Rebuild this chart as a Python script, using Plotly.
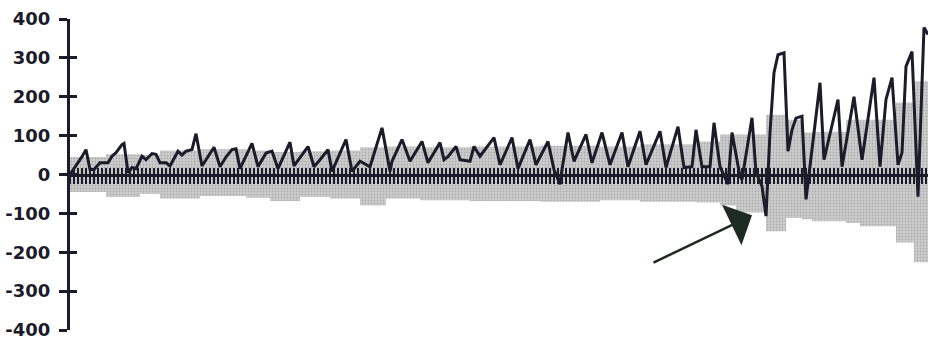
import plotly.graph_objects as go

# ---- data (time step index, value) ----
line_t = [0, 4, 6, 8, 10, 12, 15, 19, 21, 23, 26, 27, 29, 31, 33, 36, 38, 41, 43, 45,
          48, 50, 54, 56, 58, 61, 63, 66, 72, 75, 78, 81, 83, 85, 91, 94, 98, 101, 104, 110,
          112, 119, 122, 125, 129, 131, 138, 141, 145, 150, 156, 160, 161, 166, 170, 176, 179, 185, 187, 189,
          193, 195, 200, 202, 205, 212, 215, 221, 224, 230, 233, 239, 242, 245, 246, 249, 252, 258, 261, 266,
          270, 276, 279, 285, 288, 295, 298, 304, 307, 311, 313, 316, 320, 322, 325, 329, 331, 335, 336, 341,
          343, 346, 348, 350, 352, 354, 357, 359, 361, 363, 366, 368, 375, 377, 384, 386, 392, 396, 398, 401,
          402, 405, 408, 411, 414, 416, 418, 421, 424, 427, 429]
line_v = [0, 30, 46, 64, 13, 13, 30, 30, 47, 56, 77, 80, 5, 18, 15, 47, 38, 54, 52, 30,
          30, 22, 60, 50, 60, 64, 105, 22, 70, 20, 45, 64, 66, 15, 80, 20, 55, 60, 15, 83,
          22, 72, 20, 38, 64, 8, 90, 8, 34, 20, 120, 8, 34, 90, 34, 85, 30, 82, 38, 46,
          72, 38, 34, 72, 47, 95, 25, 95, 15, 90, 25, 85, 13, -25, 13, 108, 34, 103, 30, 108,
          25, 108, 20, 111, 25, 111, 18, 123, 18, 20, 115, 20, 20, 133, 20, -25, 108, -5, -13, 146,
          5, -30, -107, 108, 262, 308, 313, 60, 115, 145, 150, -64, 236, 38, 193, 20, 200, 38, 108, 226,
          249, 20, 193, 249, 25, 56, 278, 316, -57, 378, 360]

band_t = [0, 18, 35, 45, 65, 88, 100, 115, 130, 145, 158, 175, 200, 235, 265, 285, 313, 325,
          333, 348, 358, 366, 371, 388, 395, 413, 422, 430]
band_upper = [45, 52, 50, 62, 65, 62, 58, 60, 62, 70, 72, 70, 72, 74, 72, 78, 85, 103,
              103, 154, 141, 108, 110, 141, 141, 185, 240, 240]
band_lower = [-45, -58, -50, -62, -55, -60, -68, -58, -62, -80, -62, -66, -68, -70, -66, -70, -72, -80,
              -98, -146, -112, -115, -120, -125, -133, -175, -226, -226]

y_tick_vals = [400, 300, 200, 100, 0, -100, -200, -300, -400]
y_tick_labels = ["400", "300", "200", "100", "0", "-100", "-200", "-300", "-400"]

INK = "#1b1b29"
X_RANGE = [0, 429]
Y_RANGE = [-400, 400]

fig = go.Figure()

# gray band (lower step, then upper step filled to lower)
fig.add_trace(go.Scatter(x=band_t, y=band_lower, mode="lines", line=dict(width=0, shape="hv"),
                         hoverinfo="skip", showlegend=False))
fig.add_trace(go.Scatter(x=band_t, y=band_upper, mode="lines", line=dict(width=0, shape="hv"),
                         fill="tonexty", fillcolor="#c6c6c6",
                         fillpattern=dict(shape=".", fgcolor="#8c8c8c", bgcolor="#cdcdcd",
                                          size=3, solidity=0.3),
                         hoverinfo="skip", showlegend=False))

# main line (on the overlaid axes so it sits above the band)
fig.add_trace(go.Scatter(x=line_t, y=line_v, mode="lines", xaxis="x2", yaxis="y2",
                         line=dict(color=INK, width=3), hoverinfo="skip", showlegend=False))

font_ticks = dict(family="DejaVu Sans", size=18, color=INK, weight="bold")

fig.update_layout(
    width=928, height=340,
    margin=dict(l=70, r=0, t=19, b=10),
    paper_bgcolor="white", plot_bgcolor="white",
    showlegend=False,
    xaxis=dict(range=X_RANGE, anchor="free", position=0.5, showgrid=False, zeroline=False,
               showline=True, linecolor=INK, linewidth=3,
               ticks="outside", tickmode="linear", tick0=0, dtick=2, ticklen=7, tickwidth=2,
               tickcolor=INK, showticklabels=False),
    xaxis2=dict(range=X_RANGE, overlaying="x", anchor="free", position=0.5, side="bottom",
                showgrid=False, zeroline=False, showline=False,
                ticks="inside", tickmode="linear", tick0=0, dtick=2, ticklen=7, tickwidth=2,
                tickcolor=INK, showticklabels=False),
    yaxis=dict(range=Y_RANGE, anchor="x", showgrid=False, zeroline=False,
               showline=True, linecolor=INK, linewidth=3,
               ticks="outside", ticklen=8, tickwidth=3, tickcolor=INK,
               tickmode="array", tickvals=y_tick_vals, ticktext=y_tick_labels,
               tickfont=font_ticks, ticklabelstandoff=5, ticklabeloverflow="allow"),
    yaxis2=dict(range=Y_RANGE, overlaying="y", anchor="x2", side="left", showgrid=False,
                zeroline=False, showline=False,
                ticks="inside", ticklen=7, tickwidth=3, tickcolor=INK,
                tickmode="array", tickvals=y_tick_vals, showticklabels=False),
)

fig.add_annotation(x=341, y=-105, xref="x", yref="y", ax=-100, ay=48,
                   showarrow=True, arrowhead=1, arrowsize=3.0, arrowwidth=2.5,
                   arrowcolor="#1e2b22", text="")

fig.write_html("out.html", config={"displayModeBar": False},
               post_script="document.body.style.margin='0px';")
